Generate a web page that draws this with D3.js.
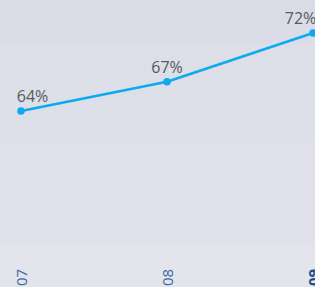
<!DOCTYPE html>
<html>
<head>
<meta charset="utf-8">
<script src="https://cdn.jsdelivr.net/npm/d3@7"></script>
<style>
  html, body { margin: 0; padding: 0; overflow: hidden; }
  svg { display: block; }
</style>
</head>
<body>
<svg id="chart" width="315" height="287"></svg>
<script>
const years = ["07", "08", "09"];
const values = [64, 67, 72];
const currentYear = "09";

const width = 315;
const height = 287;

const svg = d3.select("#chart");

// background bands, slightly lighter going down
const defs = svg.append("defs");
const grad = defs.append("linearGradient")
  .attr("id", "bg")
  .attr("x1", 0).attr("y1", 0).attr("x2", 0).attr("y2", 1);
[
  [0, "#d9dce6"], [0.145, "#dadde7"], [0.15, "#dcdee8"],
  [0.495, "#dddfe9"], [0.5, "#dfe0ea"], [0.85, "#e0e1eb"],
  [0.855, "#e3e3ec"], [1, "#e4e4ed"],
].forEach(([o, c]) => grad.append("stop").attr("offset", o).attr("stop-color", c));

svg.append("rect")
  .attr("width", width)
  .attr("height", height)
  .attr("fill", "url(#bg)");

const x = d3.scalePoint()
  .domain(years)
  .range([21, 313]);

const y = d3.scaleLinear()
  .domain([64, 72])
  .range([111, 33]);

const data = years.map((yr, i) => ({ year: yr, value: values[i] }));

svg.append("path")
  .datum(data)
  .attr("fill", "none")
  .attr("stroke", "#0fa9ef")
  .attr("stroke-width", 2.5)
  .attr("d", d3.line().x((d) => x(d.year)).y((d) => y(d.value)));

svg.selectAll("circle")
  .data(data)
  .join("circle")
  .attr("cx", (d) => x(d.year))
  .attr("cy", (d) => y(d.value))
  .attr("r", 3.8)
  .attr("fill", "#0fa9ef");

// value labels centred over points, kept inside the plot
const labelW = 31;
svg.selectAll("text.val")
  .data(data)
  .join("text")
  .attr("class", "val")
  .attr("x", (d) => Math.max(17 + labelW / 2, Math.min(width + 1 - labelW / 2, x(d.year))))
  .attr("y", (d) => y(d.value) - 9)
  .attr("text-anchor", "middle")
  .attr("font-family", "Open Sans, sans-serif")
  .attr("font-size", 16)
  .attr("fill", "#555a60")
  .text((d) => d.value + "%");

// x axis labels, rotated
svg.selectAll("text.tick")
  .data(years)
  .join("text")
  .attr("class", "tick")
  .attr("transform", (d) => `translate(${x(d) + 6},286) rotate(-90)`)
  .attr("text-anchor", "start")
  .attr("font-family", "Open Sans, sans-serif")
  .attr("font-size", 15)
  .attr("font-weight", (d) => (d === currentYear ? "bold" : "normal"))
  .attr("fill", (d) => (d === currentYear ? "#1d4f8c" : "#3a6aa5"))
  .text((d) => d);
</script>
</body>
</html>
